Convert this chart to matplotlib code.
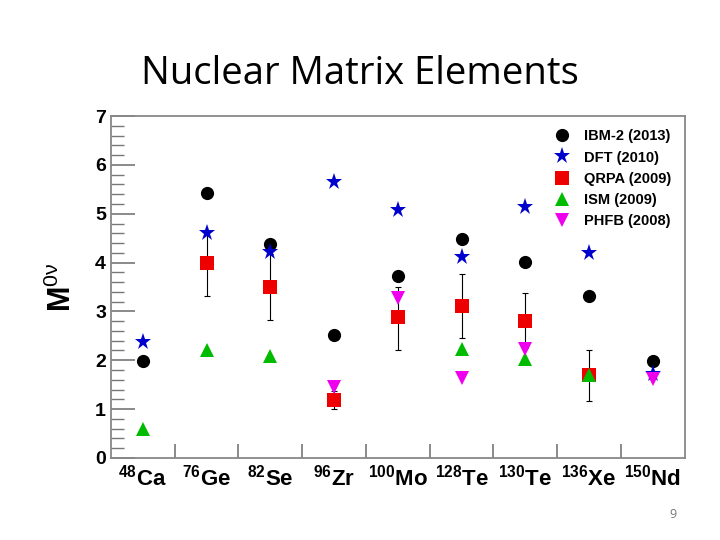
import numpy as np
import matplotlib
matplotlib.use('Agg')
import matplotlib.pyplot as plt
from matplotlib.ticker import MultipleLocator

plt.rcParams['mathtext.fontset'] = 'custom'
plt.rcParams['mathtext.rm'] = 'Liberation Sans'
plt.rcParams['mathtext.it'] = 'Liberation Sans'
plt.rcParams['mathtext.bf'] = 'Liberation Sans:bold'

nuclei = ['Ca', 'Ge', 'Se', 'Zr', 'Mo', 'Te', 'Te', 'Xe', 'Nd']
mass = ['48', '76', '82', '96', '100', '128', '130', '136', '150']

nan = np.nan
ibm2 = [1.98, 5.42, 4.38, 2.52, 3.72, 4.48, 4.01, 3.31, 1.98]
dft = [2.37, 4.60, 4.21, 5.66, 5.07, 4.11, 5.13, 4.19, 1.72]
qrpa = [nan, 4.00, 3.49, 1.19, 2.88, 3.11, 2.81, 1.70, nan]
qrpa_lo = [nan, 3.31, 2.82, 1.00, 2.21, 2.45, 2.25, 1.17, nan]
qrpa_hi = [nan, 4.65, 4.18, 1.38, 3.50, 3.76, 3.37, 2.21, nan]
ism = [0.59, 2.20, 2.09, nan, nan, 2.24, 2.02, 1.70, nan]
phfb = [nan, nan, nan, 1.46, 3.27, 1.63, 2.24, nan, 1.62]

series = [
    ('IBM-2 (2013)', ibm2, 'o', 'black', 9.5),
    ('DFT (2010)', dft, '*', '#0000cc', 12.5),
    ('QRPA (2009)', qrpa, 's', '#ee0000', 9.5),
    ('ISM (2009)', ism, '^', '#00bb00', 9.5),
    ('PHFB (2008)', phfb, 'v', '#ee00ee', 9.5),
]

fig = plt.figure(figsize=(7.2, 5.4), dpi=100)
ax = fig.add_axes([0.154, 0.152, 0.797, 0.633])

x = np.arange(len(nuclei)) + 0.5
q = np.array(qrpa)
ax.errorbar(x, q, yerr=[q - np.array(qrpa_lo), np.array(qrpa_hi) - q],
            fmt='none', ecolor='black', elinewidth=0.8, capsize=2, capthick=0.8, zorder=2)

for label, vals, m, c, ms in series:
    ax.plot(x, vals, linestyle='none', marker=m, color=c, markersize=ms,
            markeredgewidth=0, label=label, zorder=3)

ax.set_xlim(0, len(nuclei))
ax.set_ylim(0, 7)
ax.set_xticks(np.arange(1, len(nuclei)))
ax.set_xticklabels([])
ax.set_xticks(x, minor=True)
ax.set_xticklabels([r'$^{\mathbf{%s}}$%s' % (a, n) for a, n in zip(mass, nuclei)],
                   minor=True, fontsize=16, fontweight='bold', family='Liberation Sans')
ax.tick_params(axis='x', which='major', direction='in', length=10, width=1.2, color='#777777')
ax.tick_params(axis='x', which='minor', length=0, pad=5)

ax.yaxis.set_major_locator(MultipleLocator(1))
ax.yaxis.set_minor_locator(MultipleLocator(0.2))
ax.tick_params(axis='y', which='major', direction='in', length=17, width=1.2, color='#777777',
               labelsize=14)
ax.tick_params(axis='y', which='minor', direction='in', length=9, width=1.0, color='#777777')
for t in ax.get_yticklabels():
    t.set_fontweight('bold')
    t.set_family('Liberation Sans')

for s in ax.spines.values():
    s.set_color('#888888')
    s.set_linewidth(1.3)

ax.set_ylabel(r'$\mathbf{M}^{\mathrm{0\nu}}$', fontsize=22, family='Liberation Sans', labelpad=12)

leg = ax.legend(loc='upper right', frameon=False, handletextpad=0.5, labelspacing=0.5,
                borderaxespad=0.5, prop={'family': 'Liberation Sans', 'weight': 'bold', 'size': 10.5})

fig.text(0.5, 0.863, 'Nuclear Matrix Elements', ha='center', va='center',
         fontsize=27.5, family='Open Sans')
fig.text(0.935, 0.047, '9', ha='center', va='center', fontsize=9, color='#777777',
         family='Open Sans')

fig.savefig('out.png', dpi=100)
